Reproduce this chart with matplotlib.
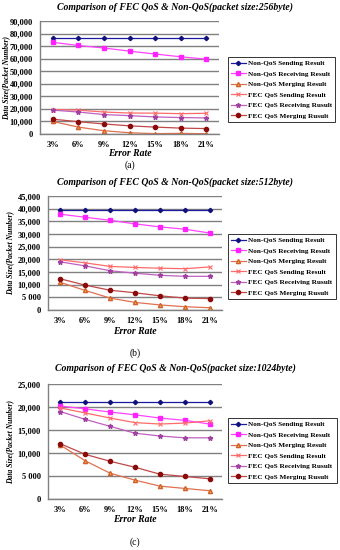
import matplotlib
matplotlib.use("Agg")
import matplotlib.pyplot as plt
from matplotlib.ticker import FixedLocator

error_rates = ["3%", "6%", "9%", "12%", "15%", "18%", "21%"]
series_names = ["Non-QoS Sending Result", "Non-QoS Receiving Result", "Non-QoS Merging Result",
                "FEC QoS Sending Result", "FEC QoS Receiving Rusult", "FEC QoS Merging Rusult"]

# panel (a) 256 byte
a_nonqos_send = [76300, 76300, 76300, 76300, 76300, 76300, 76300]
a_nonqos_recv = [73000, 70500, 68500, 66000, 63700, 61500, 59600]
a_nonqos_merge = [10000, 5500, 2600, 1000, 300, 500, 200]
a_fec_send = [19500, 19000, 17500, 16700, 16600, 16200, 16500]
a_fec_recv = [19000, 17500, 15500, 14600, 13600, 13100, 12800]
a_fec_merge = [11800, 9800, 8000, 6500, 5500, 4700, 4300]

# panel (b) 512 byte
b_nonqos_send = [39300, 39300, 39300, 39300, 39300, 39300, 39300]
b_nonqos_recv = [37800, 36600, 35400, 34000, 32800, 31900, 30400]
b_nonqos_merge = [10900, 7700, 4700, 3000, 2000, 1300, 900]
b_fec_send = [19800, 18600, 17200, 16800, 16500, 16300, 17000]
b_fec_recv = [19000, 17400, 15500, 14500, 13700, 13300, 13300]
b_fec_merge = [12300, 9800, 7800, 6800, 5600, 4700, 4500]

# panel (c) 1024 byte
c_nonqos_send = [21000, 21000, 21000, 21000, 21000, 21000, 21000]
c_nonqos_recv = [20200, 19600, 18900, 18300, 17600, 17100, 16300]
c_nonqos_merge = [11700, 8300, 5600, 4100, 2800, 2300, 1800]
c_fec_send = [19800, 18700, 17600, 16600, 16300, 16500, 17000]
c_fec_recv = [19000, 17300, 15800, 14300, 13700, 13300, 13300]
c_fec_merge = [12000, 9700, 8200, 6900, 5400, 4900, 4400]

a_ticks = [0, 10000, 20000, 30000, 40000, 50000, 60000, 70000, 80000, 90000]
a_ticklabels = ["0", "10,000", "20,000", "30,000", "40,000", "50,000", "60,000", "70,000", "80,000", "90,000"]
b_ticks = [0, 5000, 10000, 15000, 20000, 25000, 30000, 35000, 40000, 45000]
b_ticklabels = ["0", "5 000", "10,000", "15,000", "20,000", "25,000", "30,000", "35,000", "40,000", "45,000"]
c_ticks = [0, 5000, 10000, 15000, 20000, 25000]
c_ticklabels = ["0", "5 000", "10,000", "15,000", "20,000", "25,000"]

titles = ["Comparison of FEC QoS & Non-QoS(packet size:256byte)",
          "Comparison of FEC QoS & Non-QoS(packet size:512byte)",
          "Comparison of FEC QoS & Non-QoS(packet size:1024byte)"]
sublabels = ["(a)", "(b)", "(c)"]

styles = [
    dict(color="#1a1aa0", marker="D", ms=2.2, mfc="#10107a", mec="#10107a"),
    dict(color="#ff44ff", marker="s", ms=3.5, mfc="#ff22ff", mec="#ff22ff"),
    dict(color="#e07050", marker="^", ms=3.0, mfc="#f0b030", mec="#d06030"),
    dict(color="#ff6a6a", marker="x", ms=3.5, mfc="none", mec="#ff6a6a", mew=0.8),
    dict(color="#c060c0", marker="*", ms=3.5, mfc="#a040a0", mec="#a040a0"),
    dict(color="#c04848", marker="o", ms=3.0, mfc="#8b0a0a", mec="#8b0a0a"),
]

W, H = 340, 550
fig = plt.figure(figsize=(W / 100, H / 100), dpi=100)
serif = ["Liberation Serif", "DejaVu Serif"]

panels = [
    dict(data=[a_nonqos_send, a_nonqos_recv, a_nonqos_merge, a_fec_send, a_fec_recv, a_fec_merge],
         ticks=a_ticks, labels=a_ticklabels, box=(40, 21, 219, 134), leg=(228, 57, 335, 133),
         title_y=7, xl_y=153, sub_y=165, yl_x=6),
    dict(data=[b_nonqos_send, b_nonqos_recv, b_nonqos_merge, b_fec_send, b_fec_recv, b_fec_merge],
         ticks=b_ticks, labels=b_ticklabels, box=(48, 196, 222, 310), leg=(228, 234, 336, 309),
         title_y=182, xl_y=332, sub_y=353, yl_x=10),
    dict(data=[c_nonqos_send, c_nonqos_recv, c_nonqos_merge, c_fec_send, c_fec_recv, c_fec_merge],
         ticks=c_ticks, labels=c_ticklabels, box=(48, 384, 222, 499), leg=(228, 418, 337, 497),
         title_y=368, xl_y=520, sub_y=542, yl_x=10),
]

for i, p in enumerate(panels):
    x0, y0, x1, y1 = p["box"]
    ax = fig.add_axes([x0 / W, 1 - y1 / H, (x1 - x0) / W, (y1 - y0) / H])
    xs = list(range(len(error_rates)))
    handles = []
    for name, vals, st in zip(series_names, p["data"], styles):
        h, = ax.plot(xs, vals, lw=0.9, label=name, **st)
        handles.append(h)
    ax.set_xlim(-0.5, len(error_rates) - 0.5)
    ax.set_ylim(p["ticks"][0], p["ticks"][-1])
    ax.yaxis.set_major_locator(FixedLocator(p["ticks"]))
    ax.set_yticklabels(p["labels"], fontfamily=serif, fontweight="bold", fontsize=6)
    ax.set_xticks(xs)
    ax.set_xticklabels(error_rates, fontfamily=serif, fontweight="bold", fontsize=6)
    ax.tick_params(length=0, pad=5)
    ax.tick_params(axis="x", pad=5)
    ax.grid(axis="y", color="#808080", lw=1.0)
    ax.set_axisbelow(True)
    for s in ["top", "right"]:
        ax.spines[s].set_visible(False)
    for s in ["left", "bottom"]:
        ax.spines[s].set_color("#808080")
        ax.spines[s].set_linewidth(1.0)
    fig.text(p["yl_x"] / W, 1 - ((y0 + y1) / 2) / H, "Data Size(Packet Number)", rotation=90,
             ha="center", va="center", fontfamily=serif, fontweight="bold",
             fontstyle="italic", fontsize=5.5)
    cx = (x0 + x1) / 2
    fig.text(175 / W, 1 - p["title_y"] / H, titles[i], ha="center", va="center",
             fontfamily=serif, fontweight="bold", fontstyle="italic", fontsize=7)
    fig.text(cx / W, 1 - p["xl_y"] / H, "Error Rate", ha="center", va="center",
             fontfamily=serif, fontweight="bold", fontstyle="italic", fontsize=7)
    fig.text(cx / W, 1 - p["sub_y"] / H, sublabels[i], ha="center", va="center",
             fontfamily=serif, fontsize=7)
    lx0, ly0, lx1, ly1 = p["leg"]
    leg = fig.legend(handles=handles, loc="upper left",
                     bbox_to_anchor=(lx0 / W, 1 - ly1 / H, (lx1 - lx0) / W, (ly1 - ly0) / H),
                     mode="expand", prop=dict(family=serif, weight="bold", size=5.2),
                     frameon=True, fancybox=False, edgecolor="black", borderpad=0.45,
                     labelspacing=0.62, handlelength=2.0, handletextpad=0.3, borderaxespad=0)
    leg.get_frame().set_linewidth(0.7)

fig.savefig("out.png", dpi=100, facecolor="white")
